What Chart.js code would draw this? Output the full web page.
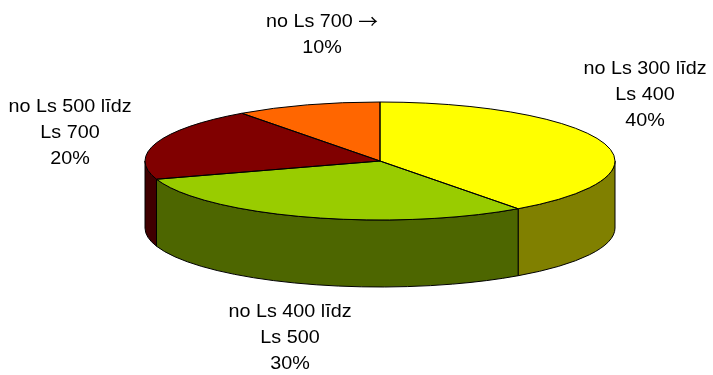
<!DOCTYPE html>
<html>
<head>
<meta charset="utf-8">
<script src="https://cdn.jsdelivr.net/npm/chart.js@4/dist/chart.umd.min.js"></script>
<style>
  html, body { margin: 0; padding: 0; background: #ffffff; }
  #wrap { width: 713px; height: 375px; position: relative; }
</style>
</head>
<body>
<div id="wrap"><canvas id="c" width="713" height="375"></canvas></div>
<script>
// Price bands and their shares (percent)
const categories = ['no Ls 300 līdz\nLs 400', 'no Ls 400 līdz\nLs 500', 'no Ls 500 līdz\nLs 700', 'no Ls 700 →'];
const shares = [40, 30, 20, 10];
const topColors = ['#FFFF00', '#99CC00', '#800000', '#FF6600'];
const sideColors = ['#808000', '#4D6600', '#400000', '#803300'];

// Tilted-disc look: the library lays out a flat pie, this plugin squashes it
// into an ellipse and adds the rim underneath.
const tiltedPie = {
  id: 'tiltedPie',
  beforeDatasetsDraw(chart, args, opts) {
    const ctx = chart.ctx;
    const arcs = chart.getDatasetMeta(0).data;
    if (!arcs.length) return;
    const cx = arcs[0].x, cy = arcs[0].y, R = arcs[0].outerRadius;
    const rx = opts.rx, ry = opts.ry, depth = opts.depth;

    // rim: only the front half (angles 0..PI) is visible
    ctx.save();
    ctx.lineWidth = 1;
    ctx.strokeStyle = '#000000';
    arcs.forEach((arc, i) => {
      const a0 = Math.max(arc.startAngle, 0);
      const a1 = Math.min(arc.endAngle, Math.PI);
      if (a1 <= a0) return;
      ctx.beginPath();
      ctx.ellipse(cx, cy, rx, ry, 0, a0, a1);
      ctx.ellipse(cx, cy + depth, rx, ry, 0, a1, a0, true);
      ctx.closePath();
      ctx.fillStyle = sideColors[i];
      ctx.fill();
      ctx.stroke();
    });
    ctx.restore();

    // squash the top face
    ctx.save();
    ctx.translate(cx, cy);
    ctx.scale(rx / R, ry / R);
    ctx.translate(-cx, -cy);
  },
  afterDatasetsDraw(chart, args, opts) {
    const ctx = chart.ctx;
    ctx.restore();
    const arcs = chart.getDatasetMeta(0).data;
    if (!arcs.length) return;
    const cx = arcs[0].x, cy = arcs[0].y;
    ctx.save();
    ctx.lineWidth = 1;
    ctx.strokeStyle = '#000000';
    arcs.forEach(arc => {
      ctx.beginPath();
      ctx.moveTo(cx, cy);
      ctx.ellipse(cx, cy, opts.rx, opts.ry, 0, arc.startAngle, arc.endAngle);
      ctx.closePath();
      ctx.stroke();
    });
    ctx.restore();
  }
};

// Category labels with their percentage underneath
const sliceLabels = {
  id: 'sliceLabels',
  afterDraw(chart, args, opts) {
    const ctx = chart.ctx;
    ctx.save();
    ctx.fillStyle = '#000000';
    ctx.textAlign = 'left';
    ctx.textBaseline = 'middle';
    const labels = chart.data.labels;
    const values = chart.data.datasets[0].data;
    const total = values.reduce((s, v) => s + v, 0);

    // split a line so that the arrow glyph uses its own font
    const runs = line => line.split(/(→)/).filter(s => s.length)
      .map(s => ({ text: s, font: s === '→' ? opts.arrowFont : opts.font }));

    labels.forEach((lab, i) => {
      const lines = lab.split('\n');
      lines.push(Math.round(values[i] / total * 100) + '%');
      const p = opts.anchors[i];
      lines.forEach((t, k) => {
        const parts = runs(t);
        let w = 0;
        parts.forEach(r => { ctx.font = r.font; r.w = ctx.measureText(r.text).width; w += r.w; });
        const y = p.y + k * opts.lineHeight;
        ctx.save();
        ctx.translate(p.x, y);
        ctx.scale(opts.stretch, 1);
        let x = -w / 2;
        parts.forEach(r => { ctx.font = r.font; ctx.fillText(r.text, x, 0); x += r.w; });
        ctx.restore();
      });
    });
    ctx.restore();
  }
};

new Chart(document.getElementById('c'), {
  type: 'pie',
  data: {
    labels: categories,
    datasets: [{
      data: shares,
      backgroundColor: topColors,
      borderWidth: 0,
      clip: false
    }]
  },
  options: {
    responsive: false,
    animation: false,
    events: [],
    layout: { padding: { left: 145, right: 98, top: 0, bottom: 53 } },
    plugins: {
      legend: { display: false },
      tooltip: { enabled: false },
      tiltedPie: { rx: 235, ry: 59, depth: 67 },
      sliceLabels: {
        font: '19px "Liberation Sans", Arial, sans-serif',
        arrowFont: '19px "Noto Sans CJK SC", "DejaVu Sans", sans-serif',
        stretch: 1.04,
        lineHeight: 26,
        anchors: [
          { x: 645, y: 69 },
          { x: 290, y: 312 },
          { x: 70, y: 107 },
          { x: 322, y: 22 }
        ]
      }
    }
  },
  plugins: [tiltedPie, sliceLabels]
});
</script>
</body>
</html>
